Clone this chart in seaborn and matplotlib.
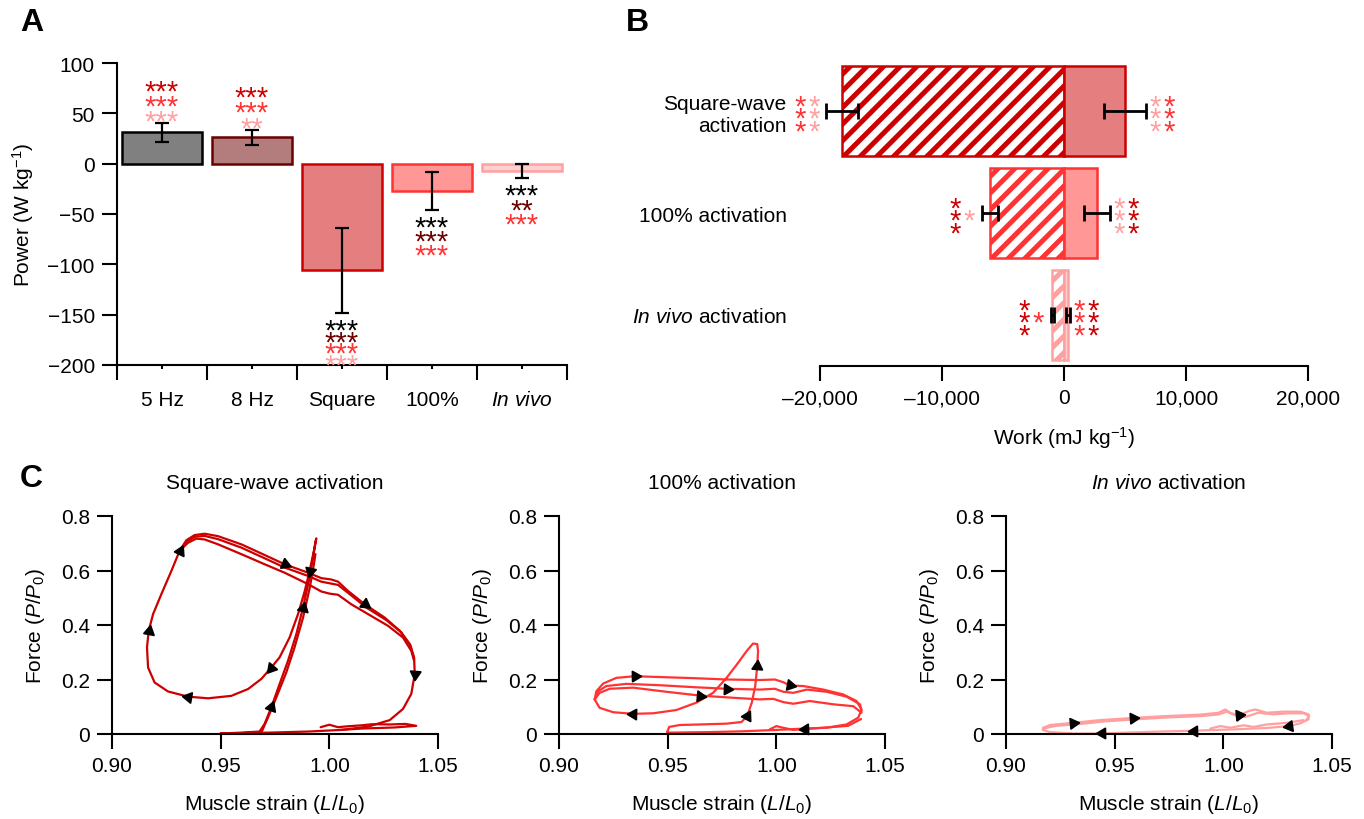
import numpy as np
import matplotlib
matplotlib.use("Agg")
import matplotlib.pyplot as plt
import seaborn as sns

BLACK = "#000000"
MAROON = "#6b0000"
DRED = "#cc0000"
RED = "#ff3333"
PINK = "#ffa0a0"

# ---- panel A: net power
power_cats = ["5 Hz", "8 Hz", "Square", "100%", "In vivo"]
power_labels = ["5 Hz", "8 Hz", "Square", "100%", r"$\it{In\ vivo}$"]
power_mean = [31, 26, -106, -27, -7]
power_err = [9, 7, 42, 19, 7]
power_fill = ["#808080", "#b47d7d", "#e57f7f", "#ff9797", "#ffd0d0"]
power_edge = [BLACK, MAROON, DRED, RED, PINK]
power_stars = [["***", "***", "***"], ["***", "***", "**"],
               ["***", "***", "***", "***"], ["***", "***", "***"], ["***", "**", "***"]]
power_star_cols = [[DRED, RED, PINK], [DRED, RED, PINK],
                   [BLACK, MAROON, RED, PINK], [BLACK, MAROON, RED], [BLACK, MAROON, RED]]

# ---- panel B: work
work_cats = ["Square-wave\nactivation", "100% activation", r"$\it{In\ vivo}$ activation"]
work_neg = [-18200, -6100, -950]
work_neg_err = [1300, 650, 150]
work_pos = [5000, 2700, 320]
work_pos_err = [1700, 1100, 150]
work_edge = [DRED, RED, PINK]
work_fill = ["#e57f7f", "#ff9797", "#ffd0d0"]
work_ticks = [-20000, -10000, 0, 10000, 20000]
work_tick_labels = ["\u201320,000", "\u201310,000", "0", "10,000", "20,000"]
work_stars_left = [["***", "***"], ["***", "*"], ["***", "*"]]
work_stars_left_cols = [[RED, PINK], [DRED, PINK], [DRED, RED]]
work_stars_right = [["***", "***"], ["***", "***"], ["***", "***"]]
work_stars_right_cols = [[PINK, RED], [PINK, DRED], [RED, DRED]]

# ---- panel C: work loops (strain, force)
sq_x = [0.9500, 0.9595, 0.9679, 0.9702, 0.9733, 0.9771, 0.9810, 0.9848, 0.9879, 0.9906, 0.9925, 0.9936, 0.9940,
        0.9929, 0.9909, 0.9887, 0.9856, 0.9817, 0.9771, 0.9733, 0.9687, 0.9626, 0.9549, 0.9442, 0.9350, 0.9258,
        0.9196, 0.9166, 0.9161, 0.9169, 0.9189, 0.9227, 0.9273, 0.9311, 0.9342, 0.9380, 0.9426, 0.9488, 0.9595,
        0.9702, 0.9794, 0.9902, 0.9963, 1.0009, 1.0040, 1.0086, 1.0163, 1.0255, 1.0324, 1.0370, 1.0390, 1.0393,
        1.0377, 1.0339, 1.0278, 1.0178, 1.0055, 0.9902, 0.9718, 0.9500]
sq_y = [0.002, 0.005, 0.009, 0.037, 0.098, 0.183, 0.269, 0.366, 0.464, 0.562, 0.647, 0.702, 0.718,
        0.672, 0.598, 0.525, 0.440, 0.354, 0.281, 0.244, 0.202, 0.165, 0.140, 0.131, 0.137, 0.156,
        0.189, 0.244, 0.318, 0.379, 0.440, 0.513, 0.598, 0.672, 0.711, 0.730, 0.735, 0.726, 0.696,
        0.657, 0.623, 0.592, 0.572, 0.567, 0.559, 0.525, 0.476, 0.427, 0.379, 0.330, 0.281, 0.220,
        0.147, 0.092, 0.051, 0.027, 0.015, 0.009, 0.005, 0.002]
sq_mid_x = [0.9311, 0.9347, 0.9383, 0.9426, 0.9488, 0.9595, 0.9702, 0.9794, 0.9902, 0.9963, 1.0002, 1.0040,
            1.0094, 1.0170, 1.0262, 1.0331, 1.0374, 1.0390]
sq_mid_y = [0.672, 0.708, 0.724, 0.727, 0.715, 0.684, 0.645, 0.611, 0.580, 0.559, 0.553, 0.547,
            0.513, 0.464, 0.418, 0.373, 0.324, 0.275]
sq_in_x = [0.9311, 0.9350, 0.9388, 0.9426, 0.9488, 0.9595, 0.9702, 0.9794, 0.9902, 0.9963, 1.0002, 1.0040,
           1.0101, 1.0178, 1.0270, 1.0339, 1.0377, 1.0390]
sq_in_y = [0.672, 0.702, 0.717, 0.714, 0.696, 0.660, 0.623, 0.592, 0.550, 0.523, 0.515, 0.511,
           0.476, 0.440, 0.397, 0.354, 0.305, 0.269]
sq_rise_x = [0.9687, 0.9718, 0.9756, 0.9802, 0.9840, 0.9879, 0.9910, 0.9929, 0.9936]
sq_rise_y = [0.005, 0.061, 0.134, 0.226, 0.318, 0.427, 0.537, 0.623, 0.660]
sq_base_x = [0.996, 1.000, 1.004, 1.008, 1.015, 1.020, 1.028, 1.035, 1.040, 1.030, 1.015, 1.005]
sq_base_y = [0.025, 0.034, 0.025, 0.028, 0.032, 0.036, 0.035, 0.037, 0.030, 0.024, 0.020, 0.015]
sq_arrows = [4, 8, 14, 19, 24, 29, 33, 40, 46, 51]

pc_x = [0.9497, 0.9507, 0.9556, 0.9648, 0.9771, 0.9840, 0.9866, 0.9887, 0.9903, 0.9912, 0.9916, 0.9912,
        0.9893, 0.9863, 0.9824, 0.9771, 0.9709, 0.9632, 0.9540, 0.9433, 0.9341, 0.9249, 0.9187, 0.9164,
        0.9172, 0.9203, 0.9264, 0.9348, 0.9464, 0.9617, 0.9771, 0.9924, 0.9993, 1.0032, 1.0062, 1.0124,
        1.0216, 1.0308, 1.0369, 1.0392, 1.0377, 1.0323, 1.0231, 1.0131, 1.0001, 0.9847, 0.9694, 0.9497]
pc_y = [0.005, 0.026, 0.033, 0.035, 0.038, 0.044, 0.066, 0.115, 0.176, 0.249, 0.304, 0.330,
        0.332, 0.304, 0.261, 0.206, 0.151, 0.115, 0.088, 0.076, 0.074, 0.080, 0.096, 0.127,
        0.157, 0.185, 0.206, 0.212, 0.209, 0.205, 0.200, 0.198, 0.200, 0.190, 0.178, 0.176,
        0.163, 0.145, 0.121, 0.090, 0.060, 0.035, 0.023, 0.020, 0.015, 0.010, 0.007, 0.005]
pc_mid_x = [0.9164, 0.9180, 0.9218, 0.9310, 0.9464, 0.9617, 0.9771, 0.9924, 0.9993, 1.0032, 1.0078, 1.0140,
            1.0231, 1.0323, 1.0385, 1.0392]
pc_mid_y = [0.127, 0.157, 0.176, 0.184, 0.179, 0.172, 0.166, 0.163, 0.166, 0.155, 0.151, 0.163,
            0.155, 0.137, 0.109, 0.084]
pc_low_x = [0.9164, 0.9187, 0.9233, 0.9341, 0.9494, 0.9648, 0.9801, 0.9924, 0.9986, 1.0032, 1.0078, 1.0154,
            1.0262, 1.0354, 1.0392]
pc_low_y = [0.127, 0.151, 0.166, 0.170, 0.155, 0.141, 0.133, 0.127, 0.129, 0.117, 0.111, 0.121,
            0.109, 0.102, 0.078]
pc_base_x = [0.9970, 1.0000, 1.0031, 1.0078, 1.0200, 1.0330, 1.0390]
pc_base_y = [0.017, 0.029, 0.023, 0.015, 0.022, 0.030, 0.055]
pc_arrows = [6, 9, 20, 27, 34, 43]
pc_mid_arrows = [6]
pc_low_arrows = [5]

iv_x = [0.9172, 0.9203, 0.9310, 0.9433, 0.9586, 0.9740, 0.9893, 0.9978, 1.0009, 1.0032, 1.0070, 1.0116,
        1.0147, 1.0200, 1.0277, 1.0354, 1.0392, 1.0392, 1.0354, 1.0300, 1.0200, 1.0047, 0.9863, 0.9709,
        0.9556, 0.9441, 0.9310, 0.9203, 0.9169, 0.9172]
iv_y = [0.023, 0.033, 0.041, 0.051, 0.059, 0.066, 0.071, 0.078, 0.090, 0.078, 0.068, 0.084,
        0.090, 0.078, 0.082, 0.082, 0.072, 0.054, 0.039, 0.029, 0.022, 0.017, 0.012, 0.009,
        0.005, 0.002, 0.002, 0.007, 0.015, 0.023]
iv_b_x = [0.9172, 0.9230, 0.9330, 0.9450, 0.9600, 0.9750, 0.9900, 0.9980, 1.0015, 1.0050, 1.0100, 1.0160,
          1.0230, 1.0300, 1.0370, 1.0395, 1.0380]
iv_b_y = [0.020, 0.030, 0.036, 0.046, 0.054, 0.061, 0.066, 0.072, 0.082, 0.070, 0.062, 0.078,
          0.072, 0.076, 0.076, 0.066, 0.050]
iv_base_x = [0.9940, 0.9986, 1.0032, 1.0093, 1.0139, 1.0200, 1.0292, 1.0369]
iv_base_y = [0.020, 0.029, 0.023, 0.032, 0.026, 0.035, 0.041, 0.051]
iv_arrows = [2, 4, 10, 19, 22, 25]

strain_ticks = [0.90, 0.95, 1.00, 1.05]
strain_labels = ["0.90", "0.95", "1.00", "1.05"]
force_ticks = [0, 0.2, 0.4, 0.6, 0.8]
force_labels = ["0", "0.2", "0.4", "0.6", "0.8"]


sns.set_style("ticks")
plt.rcParams["font.family"] = ["Liberation Sans", "DejaVu Sans"]
plt.rcParams.update({
    "mathtext.fontset": "custom",
    "mathtext.rm": "Liberation Sans",
    "mathtext.it": "Liberation Sans:italic",
    "mathtext.bf": "Liberation Sans:bold",
    "hatch.linewidth": 3.6,
    "axes.linewidth": 1.5,
    "axes.edgecolor": "black",
    "axes.labelcolor": "black",
    "text.color": "black",
    "xtick.color": "black",
    "ytick.color": "black",
    "xtick.major.width": 1.5,
    "ytick.major.width": 1.5,
    "xtick.minor.width": 1.5,
    "xtick.major.size": 11,
    "ytick.major.size": 11,
    "font.size": 15,
    "axes.labelsize": 15,
    "axes.titlesize": 15,
    "xtick.labelsize": 15,
    "ytick.labelsize": 15,
})

STAR_FS = 21
PX = 0.72  # points per pixel


def star_text(ax, x, y, text, color, dx_px, dy_px):
    # dy_px is where the centre of the asterisk glyph should sit
    ax.annotate(text, (x, y), xytext=(dx_px * PX, dy_px * PX - 0.55 * STAR_FS),
                textcoords="offset points", ha="center", va="baseline",
                color=color, fontsize=STAR_FS, annotation_clip=False)


fig = plt.figure(figsize=(13.64, 8.2), dpi=100)

# ================= A
axA = fig.add_axes([117 / 1364, 1 - 366 / 820, 450 / 1364, 302 / 820])
sns.barplot(x=power_cats, y=power_mean, hue=power_cats, palette=power_fill, legend=False,
            saturation=1, width=0.88, linewidth=1.8, errorbar=None, ax=axA)
for bar, ec in zip(axA.patches, power_edge):
    bar.set_edgecolor(ec)
posA = np.arange(len(power_cats))
axA.errorbar(posA, power_mean, yerr=power_err, fmt="none", ecolor="black",
             elinewidth=1.6, capsize=5, capthick=1.6, zorder=4)
axA.set_xlim(-0.5, 4.5)
axA.set_ylim(-200, 100)
axA.set_yticks([100, 50, 0, -50, -100, -150, -200])
axA.set_xticks(posA, power_labels)
axA.set_xticks(np.arange(len(power_cats) + 1) - 0.5, minor=True)
axA.tick_params(axis="x", which="major", length=3, pad=15)
axA.tick_params(axis="x", which="minor", length=11, width=1.5)
axA.tick_params(axis="y", pad=5)
axA.set_ylabel(r"Power (W kg$^{-1}$)", labelpad=8)
axA.set_xlabel("")
sns.despine(ax=axA)

gaps = [15, 15.5, 11.5, 14, 14.5]
for i, (rows, cols) in enumerate(zip(power_stars, power_star_cols)):
    n = len(rows)
    if power_mean[i] > 0:
        yb = power_mean[i] + power_err[i]
        for k in range(n):
            star_text(axA, i, yb, rows[k], cols[k], 0, 10 + (n - 1 - k) * gaps[i])
    else:
        yb = power_mean[i] - power_err[i]
        for k in range(n):
            star_text(axA, i, yb, rows[k], cols[k], 0, -(10 + k * gaps[i]))

# ================= B
axB = fig.add_axes([820 / 1364, 1 - 367 / 820, 488 / 1364, 306 / 820])
sns.barplot(x=work_neg, y=work_cats, hue=work_cats, palette=["white"] * 3, legend=False,
            saturation=1, orient="h", width=0.89, linewidth=1.8, errorbar=None, ax=axB)
sns.barplot(x=work_pos, y=work_cats, hue=work_cats, palette=work_fill, legend=False,
            saturation=1, orient="h", width=0.89, linewidth=1.8, errorbar=None, ax=axB)
for j, bar in enumerate(axB.patches):
    bar.set_edgecolor(work_edge[j % 3])
    if j < 3:
        bar.set_hatch("//")
posB = np.arange(len(work_cats))
axB.errorbar(work_neg, posB, xerr=work_neg_err, fmt="none", ecolor="black",
             elinewidth=2, capsize=6, capthick=2, zorder=4)
axB.errorbar(work_pos, posB, xerr=work_pos_err, fmt="none", ecolor="black",
             elinewidth=2, capsize=6, capthick=2, zorder=4)
axB.set_xlim(-20000, 20000)
axB.set_ylim(2.5, -0.5)
axB.set_xticks(work_ticks, work_tick_labels)
axB.tick_params(axis="y", length=0, pad=24)
axB.tick_params(axis="x", pad=5)
axB.set_xlabel(r"Work (mJ kg$^{-1}$)", labelpad=12)
axB.set_ylabel("")
sns.despine(ax=axB, left=True)

for i in range(len(work_cats)):
    xl = work_neg[i] - work_neg_err[i]
    xr = work_pos[i] + work_pos_err[i]
    for cols_s, cols_c, base, offs in [(work_stars_left[i], work_stars_left_cols[i], xl, [-26, -12]),
                                       (work_stars_right[i], work_stars_right_cols[i], xr, [9, 23])]:
        for s, c, dx in zip(cols_s, cols_c, offs):
            n = len(s)
            for k in range(n):
                star_text(axB, base, i, "*", c, dx, ((n - 1) / 2 - k) * 12.5)


# ================= C
def add_arrows(ax, x, y, idx_list):
    pts = ax.transData.transform(np.column_stack([x, y]))
    for i in idx_list:
        d = pts[i + 1] - pts[i - 1]
        ang = np.degrees(np.arctan2(d[1], d[0]))
        ax.plot(x[i], y[i], marker=(3, 0, ang - 90), markersize=9, color="black",
                clip_on=False, zorder=5, linestyle="none")


c_panels = [
    ("Square-wave activation", DRED, 112,
     [(sq_x, sq_y, sq_arrows), (sq_mid_x, sq_mid_y, []), (sq_in_x, sq_in_y, []),
      (sq_rise_x, sq_rise_y, []), (sq_base_x, sq_base_y, [])]),
    ("100% activation", RED, 559,
     [(pc_x, pc_y, pc_arrows), (pc_mid_x, pc_mid_y, pc_mid_arrows), (pc_low_x, pc_low_y, pc_low_arrows),
      (pc_base_x, pc_base_y, [])]),
    (r"$\it{In\ vivo}$ activation", PINK, 1006,
     [(iv_x, iv_y, iv_arrows), (iv_b_x, iv_b_y, []), (iv_base_x, iv_base_y, [])]),
]

for title, col, left_px, traces in c_panels:
    ax = fig.add_axes([left_px / 1364, 85 / 820, 326 / 1364, 218 / 820])
    for tx, ty, _ in traces:
        sns.lineplot(x=tx, y=ty, sort=False, estimator=None, color=col, lw=1.6,
                     clip_on=False, ax=ax)
    ax.set_xlim(0.90, 1.05)
    ax.set_ylim(0, 0.8)
    ax.set_xticks(strain_ticks, strain_labels)
    ax.set_yticks(force_ticks, force_labels)
    ax.tick_params(axis="both", pad=5)
    ax.set_xlabel(r"Muscle strain ($L$/$L_0$)", labelpad=12)
    ax.set_ylabel(r"Force ($P$/$P_0$)", labelpad=10)
    ax.set_title(title, pad=20)
    sns.despine(ax=ax)
    for tx, ty, arr in traces:
        if arr:
            add_arrows(ax, tx, ty, arr)

fig.text(20 / 1364, 1 - 8 / 820, "A", fontsize=23, fontweight="bold", va="top")
fig.text(626 / 1364, 1 - 8 / 820, "B", fontsize=23, fontweight="bold", va="top")
fig.text(20 / 1364, 1 - 464 / 820, "C", fontsize=23, fontweight="bold", va="top")

fig.savefig("out.png", dpi=100)
